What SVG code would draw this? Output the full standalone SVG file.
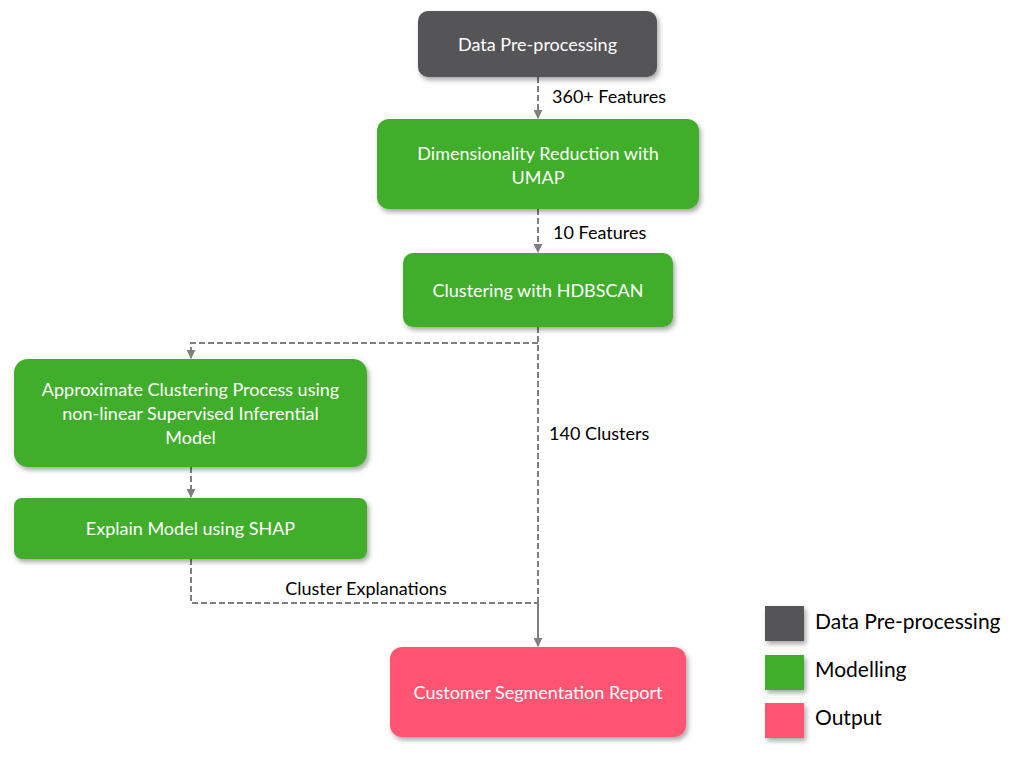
<svg xmlns="http://www.w3.org/2000/svg" width="1015" height="764" viewBox="0 0 1015 764">
<defs>
<filter id="sh" x="-10%" y="-10%" width="125%" height="135%">
<feDropShadow dx="2" dy="3" stdDeviation="2.5" flood-color="#000" flood-opacity="0.35"/>
</filter>
<marker id="ar" viewBox="0 0 10 10" refX="9" refY="5" markerWidth="4.5" markerHeight="4.5" orient="auto" markerUnits="strokeWidth">
<path d="M0,0 L10,5 L0,10 z" fill="#7f7f7f"/>
</marker>
</defs>
<style>
.box{filter:url(#sh);}
.g{fill:#3fae2a;}
.d{fill:#545559;}
.p{fill:#ff5572;}
.bt{font-family:Lato,"Liberation Sans",sans-serif;font-size:18px;fill:#fff;text-anchor:middle;}
.lt{font-family:Lato,"Liberation Sans",sans-serif;font-size:18px;fill:#000;}
.leg{font-family:Lato,"Liberation Sans",sans-serif;font-size:21px;fill:#000;}
.c{fill:none;stroke:#7f7f7f;stroke-width:2;}
.ds{stroke-dasharray:6,3;}
</style>
<rect width="1015" height="764" fill="#fff"/>
<g id="connectors">
<line class="c ds" x1="538" y1="77" x2="538" y2="118" marker-end="url(#ar)"/>
<line class="c ds" x1="538" y1="209" x2="538" y2="252" marker-end="url(#ar)"/>
<polyline class="c ds" points="538,327 538,603"/>
<polyline class="c ds" points="538,343 191,343 191,358" marker-end="url(#ar)"/>
<line class="c ds" x1="191" y1="467" x2="191" y2="497" marker-end="url(#ar)"/>
<polyline class="c ds" points="191,559 191,603 538,603"/>
<line class="c" x1="538" y1="603" x2="538" y2="646" marker-end="url(#ar)"/>
<text class="lt" x="552" y="103">360+ Features</text>
<text class="lt" x="553" y="239">10 Features</text>
<text class="lt" x="549" y="440">140 Clusters</text>
<text class="lt" x="366" y="595" text-anchor="middle">Cluster Explanations</text>
</g>
<g id="n-preprocess">
<rect class="box d" x="418" y="11" width="239" height="66" rx="10"/>
<text class="bt" x="537.5" y="51">Data Pre-processing</text>
</g>
<g id="n-umap">
<rect class="box g" x="377" y="119" width="322" height="90" rx="12"/>
<text class="bt" x="538" y="160">Dimensionality Reduction with</text>
<text class="bt" x="538" y="184">UMAP</text>
</g>
<g id="n-hdbscan">
<rect class="box g" x="403" y="253" width="270" height="74" rx="10"/>
<text class="bt" x="538" y="297">Clustering with HDBSCAN</text>
</g>
<g id="n-approx">
<rect class="box g" x="14" y="359" width="353" height="108" rx="14"/>
<text class="bt" x="190.5" y="396">Approximate Clustering Process using</text>
<text class="bt" x="190.5" y="420">non-linear Supervised Inferential</text>
<text class="bt" x="190.5" y="444">Model</text>
</g>
<g id="n-shap">
<rect class="box g" x="14" y="498" width="353" height="61" rx="8"/>
<text class="bt" x="190.5" y="535">Explain Model using SHAP</text>
</g>
<g id="n-report">
<rect class="box p" x="390" y="647" width="296" height="90" rx="12"/>
<text class="bt" x="538" y="699">Customer Segmentation Report</text>
</g>
<g id="legend">
<rect class="box d" x="765" y="606" width="39" height="35"/>
<rect class="box g" x="765" y="655" width="39" height="35"/>
<rect class="box p" x="765" y="703" width="39" height="35"/>
<text class="leg" x="815" y="629">Data Pre-processing</text>
<text class="leg" x="815" y="677">Modelling</text>
<text class="leg" x="815" y="725">Output</text>
</g>
</svg>
